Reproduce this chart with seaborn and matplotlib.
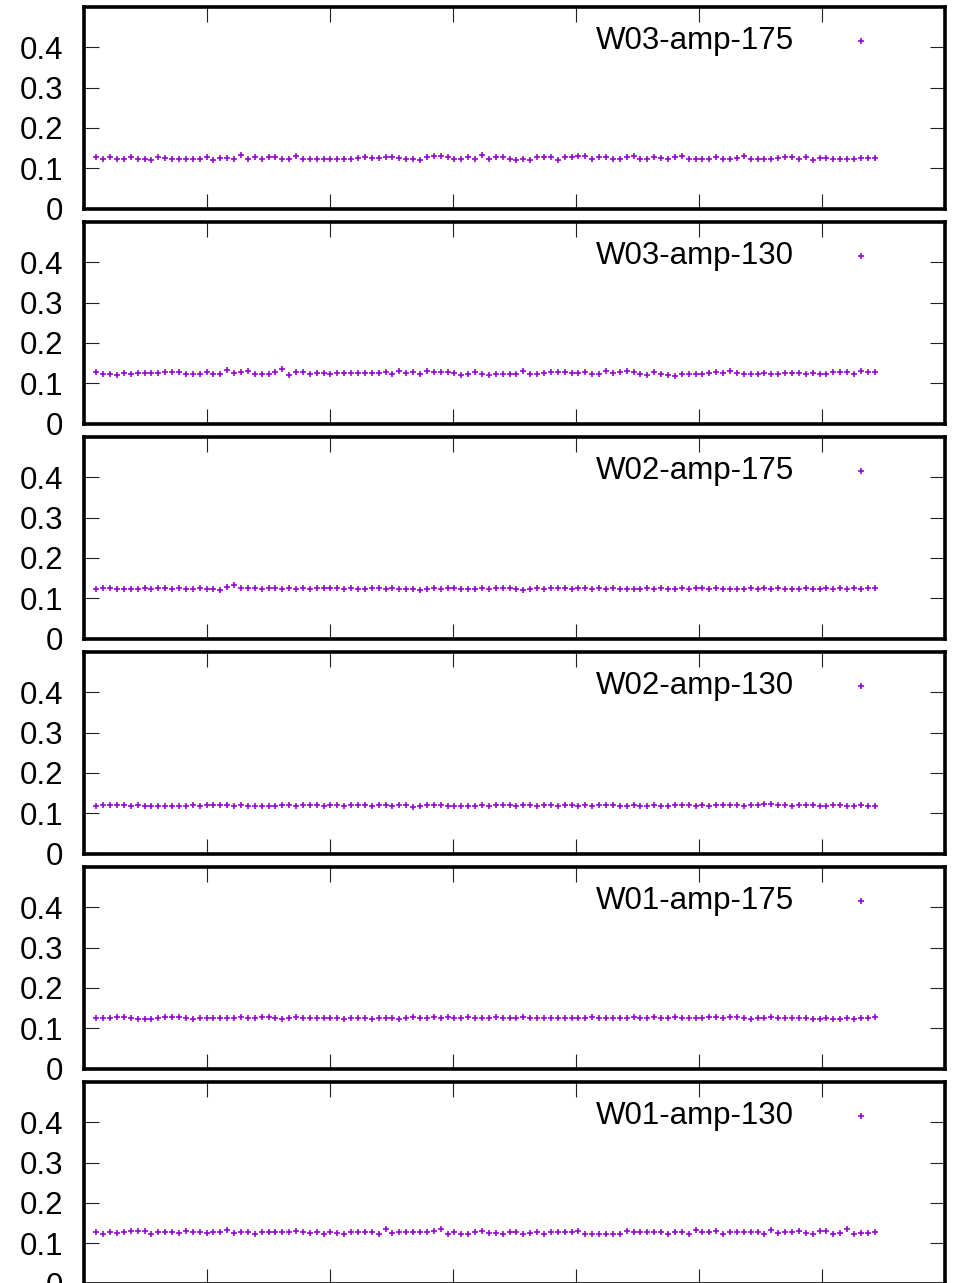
import matplotlib
matplotlib.use("Agg")
import matplotlib.pyplot as plt
import seaborn as sns
import numpy as np

# panel names, top to bottom
panel_names = ["W03-amp-175", "W03-amp-130", "W02-amp-175",
               "W02-amp-130", "W01-amp-175", "W01-amp-130"]

# sample positions (114 samples, x axis runs 0..140)
n_samples = 114
sample_x = 2.0 + 1.12 * np.arange(n_samples)

w03_175 = [
    0.128, 0.124, 0.128, 0.124, 0.124, 0.128, 0.124, 0.124, 0.120, 0.128,
    0.126, 0.124, 0.124, 0.122, 0.124, 0.124, 0.128, 0.120, 0.126, 0.126,
    0.124, 0.132, 0.122, 0.128, 0.124, 0.128, 0.128, 0.122, 0.124, 0.131,
    0.122, 0.122, 0.122, 0.124, 0.124, 0.123, 0.124, 0.123, 0.126, 0.127,
    0.126, 0.126, 0.128, 0.128, 0.126, 0.124, 0.124, 0.121, 0.127, 0.131,
    0.131, 0.128, 0.123, 0.123, 0.127, 0.124, 0.132,
    0.124, 0.128, 0.127, 0.124, 0.120, 0.124, 0.120, 0.128, 0.128, 0.127,
    0.120, 0.127, 0.127, 0.130, 0.130, 0.124, 0.127, 0.128, 0.124, 0.124,
    0.127, 0.131, 0.123, 0.124, 0.128, 0.126, 0.124, 0.127, 0.131, 0.123,
    0.124, 0.124, 0.122, 0.127, 0.124, 0.124, 0.126, 0.131, 0.124, 0.124,
    0.123, 0.124, 0.126, 0.127, 0.128, 0.124, 0.128, 0.120, 0.126, 0.126,
    0.124, 0.124, 0.122, 0.122, 0.126, 0.126, 0.126,
]

w03_130 = [
    0.128, 0.124, 0.124, 0.120, 0.126, 0.124, 0.126, 0.126, 0.126, 0.126,
    0.128, 0.127, 0.128, 0.124, 0.124, 0.124, 0.128, 0.124, 0.124, 0.132,
    0.126, 0.128, 0.131, 0.124, 0.124, 0.124, 0.128, 0.135, 0.120, 0.128,
    0.127, 0.123, 0.126, 0.126, 0.124, 0.126, 0.126, 0.126, 0.126, 0.126,
    0.126, 0.126, 0.127, 0.124, 0.131, 0.126, 0.127, 0.124, 0.130, 0.127,
    0.128, 0.127, 0.126, 0.120, 0.124, 0.128, 0.124,
    0.120, 0.124, 0.124, 0.124, 0.124, 0.131, 0.123, 0.124, 0.126, 0.127,
    0.128, 0.128, 0.126, 0.126, 0.127, 0.124, 0.124, 0.131, 0.126, 0.128,
    0.130, 0.128, 0.124, 0.120, 0.127, 0.124, 0.120, 0.118, 0.124, 0.124,
    0.124, 0.124, 0.126, 0.127, 0.126, 0.131, 0.126, 0.124, 0.124, 0.124,
    0.126, 0.124, 0.124, 0.126, 0.126, 0.126, 0.124, 0.126, 0.124, 0.124,
    0.127, 0.127, 0.127, 0.123, 0.131, 0.128, 0.127,
]

w02_175 = [
    0.124, 0.126, 0.125, 0.124, 0.124, 0.122, 0.124, 0.125, 0.124, 0.125,
    0.126, 0.124, 0.125, 0.124, 0.123, 0.125, 0.124, 0.124, 0.121, 0.128,
    0.132, 0.126, 0.125, 0.125, 0.124, 0.125, 0.125, 0.124, 0.125, 0.124,
    0.125, 0.124, 0.125, 0.125, 0.126, 0.125, 0.124, 0.125, 0.124, 0.124,
    0.125, 0.125, 0.124, 0.125, 0.123, 0.124, 0.124, 0.121, 0.124, 0.125,
    0.124, 0.126, 0.125, 0.124, 0.122, 0.124, 0.125, 0.124, 0.125, 0.126,
    0.125, 0.123, 0.121, 0.124, 0.125, 0.124, 0.125, 0.126, 0.125, 0.124,
    0.126, 0.125, 0.124, 0.125, 0.124, 0.125, 0.124, 0.123, 0.122, 0.124,
    0.125, 0.124, 0.125, 0.124, 0.122, 0.125, 0.124, 0.125, 0.126, 0.124,
    0.125, 0.124, 0.123, 0.122, 0.124, 0.125, 0.124, 0.125, 0.124, 0.125,
    0.124, 0.122, 0.124, 0.125, 0.124, 0.124, 0.125, 0.124, 0.125, 0.124,
    0.125, 0.124, 0.125, 0.126,
]

w02_130 = [
    0.118, 0.120, 0.121, 0.120, 0.120, 0.119, 0.120, 0.118, 0.119, 0.118,
    0.118, 0.119, 0.119, 0.119, 0.120, 0.119, 0.120, 0.121, 0.120, 0.120,
    0.119, 0.121, 0.119, 0.119, 0.118, 0.118, 0.119, 0.120, 0.121, 0.119,
    0.120, 0.120, 0.120, 0.119, 0.120, 0.120, 0.119, 0.121, 0.120, 0.120,
    0.119, 0.120, 0.120, 0.119, 0.120, 0.120, 0.116, 0.118, 0.120, 0.121,
    0.120, 0.119, 0.118, 0.119, 0.118, 0.117, 0.120, 0.119, 0.120, 0.120,
    0.120, 0.119, 0.120, 0.120, 0.119, 0.121, 0.120, 0.119, 0.120, 0.121,
    0.119, 0.120, 0.119, 0.120, 0.121, 0.120, 0.119, 0.118, 0.120, 0.119,
    0.119, 0.120, 0.119, 0.119, 0.120, 0.121, 0.120, 0.119, 0.120, 0.119,
    0.120, 0.120, 0.121, 0.120, 0.119, 0.120, 0.121, 0.122, 0.124, 0.121,
    0.120, 0.119, 0.120, 0.121, 0.120, 0.119, 0.119, 0.120, 0.120, 0.119,
    0.119, 0.120, 0.119, 0.119,
]

w01_175 = [
    0.126, 0.126, 0.126, 0.127, 0.127, 0.126, 0.124, 0.123, 0.124, 0.125,
    0.127, 0.128, 0.127, 0.126, 0.124, 0.125, 0.125, 0.126, 0.125, 0.125,
    0.126, 0.127, 0.125, 0.126, 0.127, 0.128, 0.126, 0.124, 0.126, 0.127,
    0.126, 0.125, 0.126, 0.125, 0.126, 0.125, 0.124, 0.125, 0.126, 0.125,
    0.124, 0.125, 0.126, 0.125, 0.124, 0.126, 0.127, 0.125, 0.126, 0.127,
    0.126, 0.128, 0.126, 0.125, 0.127, 0.126, 0.125, 0.126, 0.127, 0.126,
    0.125, 0.126, 0.127, 0.126, 0.126, 0.125, 0.126, 0.125, 0.126, 0.126,
    0.125, 0.126, 0.127, 0.126, 0.125, 0.126, 0.125, 0.126, 0.127, 0.125,
    0.126, 0.127, 0.126, 0.126, 0.127, 0.126, 0.125, 0.126, 0.126, 0.127,
    0.127, 0.126, 0.128, 0.127, 0.125, 0.124, 0.126, 0.125, 0.127, 0.126,
    0.125, 0.126, 0.125, 0.125, 0.124, 0.124, 0.125, 0.124, 0.124, 0.125,
    0.124, 0.125, 0.125, 0.127,
]

w01_130 = [
    0.129, 0.123, 0.129, 0.125, 0.127, 0.131, 0.131, 0.131, 0.123, 0.128,
    0.129, 0.128, 0.125, 0.131, 0.128, 0.128, 0.125, 0.128, 0.127, 0.132,
    0.125, 0.128, 0.128, 0.123, 0.128, 0.128, 0.129, 0.128, 0.128, 0.131,
    0.129, 0.125, 0.129, 0.123, 0.129, 0.125, 0.123, 0.128, 0.129, 0.127,
    0.127, 0.123, 0.134, 0.125, 0.129, 0.127, 0.127, 0.128, 0.128, 0.131,
    0.134, 0.123, 0.129, 0.123, 0.123, 0.128, 0.131,
    0.125, 0.125, 0.123, 0.128, 0.128, 0.123, 0.125, 0.127, 0.123, 0.128,
    0.129, 0.128, 0.128, 0.131, 0.123, 0.123, 0.123, 0.123, 0.123, 0.123,
    0.131, 0.128, 0.127, 0.129, 0.128, 0.127, 0.123, 0.129, 0.129, 0.123,
    0.132, 0.128, 0.128, 0.131, 0.123, 0.128, 0.129, 0.128, 0.128, 0.128,
    0.123, 0.132, 0.125, 0.128, 0.128, 0.131, 0.125, 0.123, 0.131, 0.131,
    0.123, 0.125, 0.135, 0.123, 0.125, 0.125, 0.129,
]

panel_values = [w03_175, w03_130, w02_175, w02_130, w01_175, w01_130]

y_ticks = [0, 0.1, 0.2, 0.3, 0.4]
y_tick_labels = ["0", "0.1", "0.2", "0.3", "0.4"]
x_ticks = [20, 40, 60, 80, 100, 120]

sns.set_style("white")
plt.rcParams["font.family"] = ["Liberation Sans", "DejaVu Sans"]
plt.rcParams["text.color"] = "black"

W, H = 972, 1283
fig = plt.figure(figsize=(W / 100, H / 100), dpi=100)

left, width = 84 / W, 861 / W
panel_h = 201.5
panel_step = 215
first_top = 7

for i, (name, vals) in enumerate(zip(panel_names, panel_values)):
    top = first_top + i * panel_step
    ax = fig.add_axes([left, 1 - (top + panel_h) / H, width, panel_h / H])

    sns.scatterplot(
        x=sample_x, y=vals, ax=ax,
        marker="+", color="#9400D3", s=14, linewidth=1.15,
        label=name,
    )

    ax.set_xlim(0, 140)
    ax.set_ylim(0, 0.5)
    ax.set_xticks(x_ticks)
    ax.set_yticks(y_ticks)
    ax.set_yticklabels(y_tick_labels)
    ax.tick_params(
        axis="both", direction="in", length=11, width=0.8, color="#222222",
        top=True, right=True, bottom=True, left=True,
        labelbottom=False, labelsize=22.5, pad=15, labelcolor="black",
    )
    for sp in ax.spines.values():
        sp.set_linewidth(2.6)
        sp.set_color("black")

    leg = ax.legend(
        loc="center right", bbox_to_anchor=(0.9384, 0.831),
        frameon=False, markerfirst=False, fontsize=22.5,
        handlelength=2.0, handletextpad=1.13, borderpad=0, borderaxespad=0,
    )
    for t in leg.get_texts():
        t.set_color("black")

fig.savefig("out.png", dpi=100)
